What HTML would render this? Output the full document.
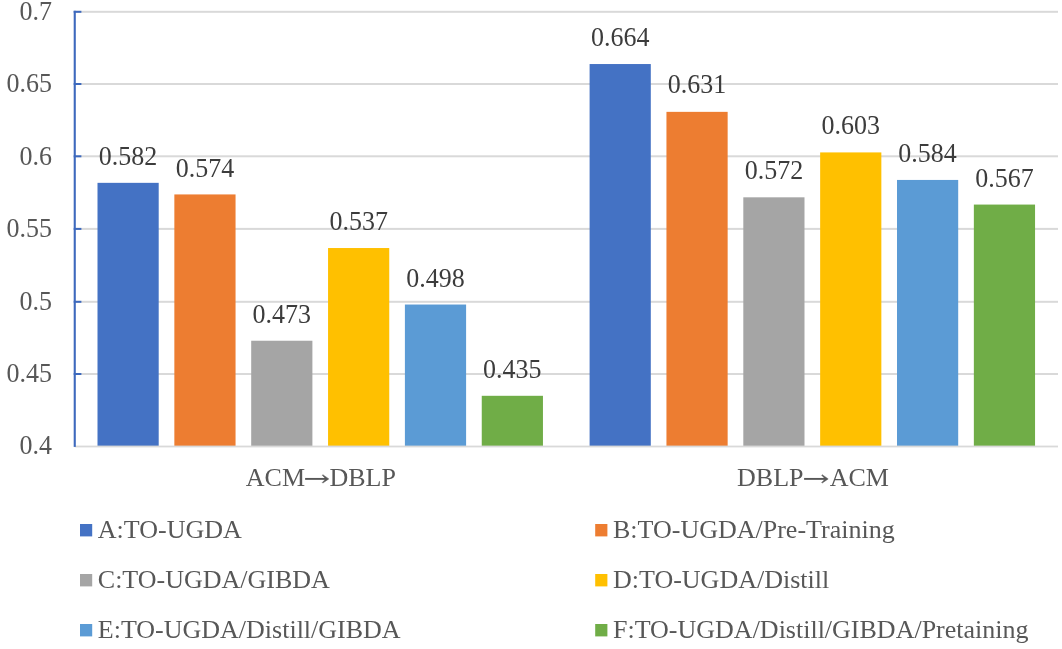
<!DOCTYPE html>
<html><head><meta charset="utf-8"><style>
html,body{margin:0;padding:0;background:#fff;}
body{width:1062px;height:649px;overflow:hidden;}
svg{display:block;will-change:transform;}
text{font-family:"Liberation Serif",serif;font-size:26px;fill:#575757;}
text.dl{fill:#3c3c3c;}
</style></head><body>
<svg width="1062" height="649" viewBox="0 0 1062 649">
<rect width="1062" height="649" fill="#fff"/>
<rect x="74.70" y="373.00" width="983.30" height="2" fill="#d9d9d9"/>
<rect x="74.70" y="300.80" width="983.30" height="2" fill="#d9d9d9"/>
<rect x="74.70" y="227.90" width="983.30" height="2" fill="#d9d9d9"/>
<rect x="74.70" y="155.30" width="983.30" height="2" fill="#d9d9d9"/>
<rect x="74.70" y="83.00" width="983.30" height="2" fill="#d9d9d9"/>
<rect x="74.70" y="10.80" width="983.30" height="2" fill="#d9d9d9"/>
<rect x="97.50" y="182.84" width="61.20" height="263.16" fill="#4472C4"/>
<rect x="174.35" y="194.43" width="61.20" height="251.57" fill="#ED7D31"/>
<rect x="251.20" y="340.74" width="61.20" height="105.26" fill="#A5A5A5"/>
<rect x="328.05" y="248.03" width="61.20" height="197.97" fill="#FFC000"/>
<rect x="404.90" y="304.53" width="61.20" height="141.47" fill="#5B9BD5"/>
<rect x="481.75" y="395.80" width="61.20" height="50.20" fill="#70AD47"/>
<rect x="589.60" y="64.04" width="61.20" height="381.96" fill="#4472C4"/>
<rect x="666.45" y="111.85" width="61.20" height="334.15" fill="#ED7D31"/>
<rect x="743.30" y="197.32" width="61.20" height="248.68" fill="#A5A5A5"/>
<rect x="820.15" y="152.41" width="61.20" height="293.59" fill="#FFC000"/>
<rect x="897.00" y="179.94" width="61.20" height="266.06" fill="#5B9BD5"/>
<rect x="973.85" y="204.57" width="61.20" height="241.43" fill="#70AD47"/>
<rect x="74.70" y="445.60" width="983.30" height="1.8" fill="#d9d9d9"/>
<rect x="73.70" y="10.80" width="2.1" height="436.10" fill="#3d69bd"/>
<rect x="73.70" y="373.00" width="7.7" height="2" fill="#3d69bd"/>
<rect x="73.70" y="300.80" width="7.7" height="2" fill="#3d69bd"/>
<rect x="73.70" y="227.90" width="7.7" height="2" fill="#3d69bd"/>
<rect x="73.70" y="155.30" width="7.7" height="2" fill="#3d69bd"/>
<rect x="73.70" y="83.00" width="7.7" height="2" fill="#3d69bd"/>
<rect x="73.70" y="10.80" width="7.7" height="2" fill="#3d69bd"/>
<text transform="translate(52 454.40) scale(1 1.05)" text-anchor="end">0.4</text>
<text transform="translate(52 381.90) scale(1 1.05)" text-anchor="end">0.45</text>
<text transform="translate(52 309.70) scale(1 1.05)" text-anchor="end">0.5</text>
<text transform="translate(52 236.80) scale(1 1.05)" text-anchor="end">0.55</text>
<text transform="translate(52 165.00) scale(1 1.05)" text-anchor="end">0.6</text>
<text transform="translate(52 91.90) scale(1 1.05)" text-anchor="end">0.65</text>
<text transform="translate(52 19.70) scale(1 1.05)" text-anchor="end">0.7</text>
<text transform="translate(128.10 165.14) scale(1 1.05)" text-anchor="middle" class="dl">0.582</text>
<text transform="translate(204.95 176.73) scale(1 1.05)" text-anchor="middle" class="dl">0.574</text>
<text transform="translate(281.80 323.04) scale(1 1.05)" text-anchor="middle" class="dl">0.473</text>
<text transform="translate(358.65 230.33) scale(1 1.05)" text-anchor="middle" class="dl">0.537</text>
<text transform="translate(435.50 286.83) scale(1 1.05)" text-anchor="middle" class="dl">0.498</text>
<text transform="translate(512.35 378.10) scale(1 1.05)" text-anchor="middle" class="dl">0.435</text>
<text transform="translate(620.20 46.34) scale(1 1.05)" text-anchor="middle" class="dl">0.664</text>
<text transform="translate(697.05 92.65) scale(1 1.05)" text-anchor="middle" class="dl">0.631</text>
<text transform="translate(773.90 179.12) scale(1 1.05)" text-anchor="middle" class="dl">0.572</text>
<text transform="translate(850.75 134.11) scale(1 1.05)" text-anchor="middle" class="dl">0.603</text>
<text transform="translate(927.60 162.24) scale(1 1.05)" text-anchor="middle" class="dl">0.584</text>
<text transform="translate(1004.45 186.87) scale(1 1.05)" text-anchor="middle" class="dl">0.567</text>
<text x="245.85" y="486.0">ACM</text>
<path d="M305.10 478.9 L326.40 478.9" stroke="#575757" stroke-width="1.9" fill="none"/><path d="M328.80 478.90 L322.80 474.70 L322.30 475.30 L325.80 478.90 L322.30 482.50 L322.80 483.10Z" fill="#575757" stroke="#575757" stroke-width="0.5" stroke-linejoin="round"/>
<text x="329.45" y="486.0">DBLP</text>
<text x="737.05" y="486.0">DBLP</text>
<path d="M804.10 478.9 L825.80 478.9" stroke="#575757" stroke-width="1.9" fill="none"/><path d="M828.20 478.90 L822.20 474.70 L821.70 475.30 L825.20 478.90 L821.70 482.50 L822.20 483.10Z" fill="#575757" stroke="#575757" stroke-width="0.5" stroke-linejoin="round"/>
<text x="829.65" y="486.0">ACM</text>
<rect x="80.00" y="524" width="12.2" height="12.4" fill="#4472C4"/>
<text x="97.80" y="538.2">A:TO-UGDA</text>
<rect x="595.20" y="524" width="12.2" height="12.4" fill="#ED7D31"/>
<text x="613.00" y="538.2">B:TO-UGDA/Pre-Training</text>
<rect x="80.00" y="574" width="12.2" height="12.4" fill="#A5A5A5"/>
<text x="97.80" y="588.2">C:TO-UGDA/GIBDA</text>
<rect x="595.20" y="574" width="12.2" height="12.4" fill="#FFC000"/>
<text x="613.00" y="588.2">D:TO-UGDA/Distill</text>
<rect x="80.00" y="624" width="12.2" height="12.4" fill="#5B9BD5"/>
<text x="97.80" y="638.2">E:TO-UGDA/Distill/GIBDA</text>
<rect x="595.20" y="624" width="12.2" height="12.4" fill="#70AD47"/>
<text x="613.00" y="638.2">F:TO-UGDA/Distill/GIBDA/Pretaining</text>
</svg>
</body></html>
